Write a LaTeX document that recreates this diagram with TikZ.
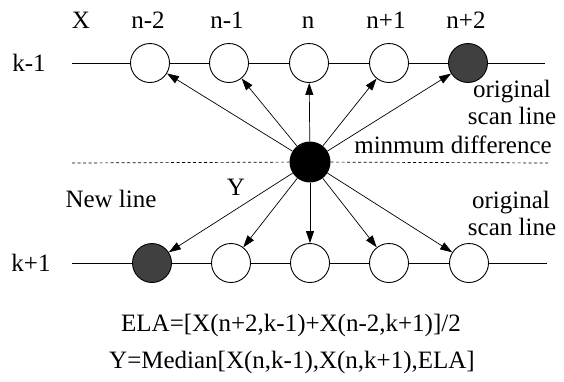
\documentclass[tikz,border=0pt]{standalone}
\usepackage{fontspec}
\setmainfont{Liberation Serif}
\usetikzlibrary{arrows.meta}
\begin{document}
\begin{tikzpicture}[x=1pt,y=-1pt,
  every node/.style={font=\fontsize{25}{29}\selectfont},
  pix/.style={circle,draw,line width=0.9pt,minimum size=39pt,inner sep=0pt,fill=white},
  shaded/.style={pix,fill=black!75},
  centre/.style={circle,fill=black,minimum size=41pt,inner sep=0pt},
  scan/.style={line width=0.9pt},
  ray/.style={line width=0.7pt,-{Triangle[length=12pt,width=8pt]}},
  label/.style={inner sep=0pt,anchor=base}]
\useasboundingbox (0,0) rectangle (564,381);

% row k-1
\coordinate (la) at (72,63);
\coordinate (ra) at (545,63);
\node[pix]    (t1) at (150,63) {};
\node[pix]    (t2) at (229,63) {};
\node[pix]    (t3) at (309,63) {};
\node[pix]    (t4) at (389,63) {};
\node[shaded] (t5) at (468,63) {};
\draw[scan] (la) -- (t1) -- (t2) -- (t3) -- (t4) -- (t5) -- (ra);

% row k+1
\coordinate (lb) at (72,263);
\coordinate (rb) at (547,263);
\node[shaded] (b1) at (152,263) {};
\node[pix]    (b2) at (231,263) {};
\node[pix]    (b3) at (310,263) {};
\node[pix]    (b4) at (389,263) {};
\node[pix]    (b5) at (469,263) {};
\draw[scan] (lb) -- (b1) -- (b2) -- (b3) -- (b4) -- (b5) -- (rb);

% interpolated pixel and the new line
\node[centre] (y) at (310,162) {};
\coordinate (ld) at (72,163);
\coordinate (rd) at (549,163);
\draw[line width=0.7pt,dash pattern=on 3pt off 2.5pt] (ld) -- (y) -- (rd);

% edge directions
\foreach \p in {t1,t2,t3,t4,t5,b1,b2,b3,b4,b5}
  \draw[ray] (y) -- (\p);

% column and row labels
\node[label] (lx)  at (81,28)  {X};
\node[label] (l1)  at (148,28) {n-2};
\node[label] (l2)  at (227,28) {n-1};
\node[label] (l3)  at (308,28) {n};
\node[label] (l4)  at (386,28) {n+1};
\node[label] (l5)  at (466,28) {n+2};
\node[label] (rk1) at (29,71)  {k-1};
\node[label] (rk2) at (31,271) {k+1};

% annotations
\node[label] (o1) at (512,97)  {original};
\node[label] (s1) at (512,124) {scan line};
\node[label] (md) at (453,153) {minmum difference};
\node[label] (nl) at (111,207) {New line};
\node[label] (yl) at (236,195) {Y};
\node[label] (o2) at (511,208) {original};
\node[label] (s2) at (512,235) {scan line};

% formulas
\node[label] (f1) at (291,331) {ELA=[X(n+2,k-1)+X(n-2,k+1)]/2};
\node[label] (f2) at (292,368) {Y=Median[X(n,k-1),X(n,k+1),ELA]};
\end{tikzpicture}
\end{document}
